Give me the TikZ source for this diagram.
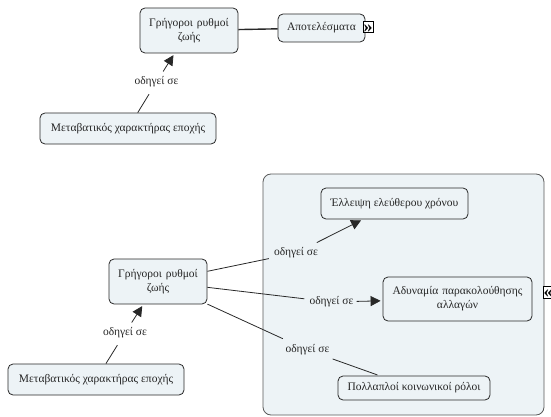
\documentclass[tikz,border=0pt]{standalone}
\usepackage{fontspec}
\setmainfont{Liberation Serif}
\usetikzlibrary{arrows.meta}
\definecolor{cmapfill}{RGB}{237,243,246}
\definecolor{cmapline}{RGB}{40,40,40}
\tikzset{
    concept/.style={draw=cmapline, fill=cmapfill, rounded corners=5pt, line width=0.8pt,
        align=center, inner sep=2pt, font=\fontsize{11.5}{14}\selectfont, text=black!85},
    cluster/.style={draw=black!65, fill=cmapfill, rounded corners=8pt, line width=0.8pt, inner sep=0pt},
    linkword/.style={inner xsep=3pt, inner ysep=5pt, font=\fontsize{11.5}{13}\selectfont, text=black!85},
    link/.style={draw=cmapline, line width=0.8pt, shorten >=2pt},
    leadsto/.style={link, -{Triangle[length=10pt,width=10pt]}},
    expander/.style={draw=black, fill=white, line width=0.6pt, inner sep=0pt,
        minimum width=10pt, minimum height=11pt, text height=6pt, text depth=0pt,
        font=\bfseries\fontsize{18}{18}\selectfont}
}
\newcommand{\chevronmark}[1]{\raisebox{-2.5pt}{#1}}
\begin{document}
\begin{tikzpicture}[x=1pt,y=-1pt]
                    \useasboundingbox (0,0) rectangle (551,417);

                    \node[concept, minimum width=98pt, minimum height=45pt, text width=90pt] (rushA) at (189,30.5) {Γρήγοροι ρυθμοί\\ζωής};
                    \node[concept, minimum width=87pt, minimum height=28pt] (results) at (321.5,28) {Αποτελέσματα};
                    \node[concept, minimum width=176pt, minimum height=31pt] (transA) at (128,128.5) {Μεταβατικός χαρακτήρας εποχής};
                    \node[linkword] (leadA) at (156.5,82) {οδηγεί σε};
                    \node[expander] (moreA) at (368,27) {\chevronmark{»}};

                    \draw[link, line width=1.4pt, shorten >=0pt] (rushA) -- (results);
                    \draw[link] (transA) -- (leadA);
                    \draw[leadsto] (leadA) -- (rushA);

                    \node[cluster, minimum width=281pt, minimum height=241pt] (group) at (403.5,294.5) {};

                    \node[concept, minimum width=98pt, minimum height=45pt, text width=90pt] (rushB) at (158,281.5) {Γρήγοροι ρυθμοί\\ζωής};
                    \node[concept, minimum width=147pt, minimum height=31pt] (leisure) at (394.5,203.5) {Έλλειψη ελεύθερου χρόνου};
                    \node[concept, minimum width=149pt, minimum height=44pt, text width=140pt] (changes) at (457.5,299) {Αδυναμία παρακολούθησης\\αλλαγών};
                    \node[concept, minimum width=152pt, minimum height=24pt] (roles) at (414,388) {Πολλαπλοί κοινωνικοί ρόλοι};
                    \node[concept, minimum width=176pt, minimum height=31pt] (transB) at (96,379.5) {Μεταβατικός χαρακτήρας εποχής};

                    \node[linkword] (leadB) at (125,333) {οδηγεί σε};
                    \node[linkword] (leadC) at (296,253) {οδηγεί σε};
                    \node[linkword] (leadD) at (331.5,302) {οδηγεί σε};
                    \node[linkword] (leadE) at (307.5,350) {οδηγεί σε};
                    \node[expander, minimum height=12pt] (moreB) at (548,292) {\chevronmark{«}};

                    \draw[link] (transB) -- (leadB);
                    \draw[leadsto] (leadB) -- (rushB);
                    \draw[link] (rushB) -- (leadC);
                    \draw[leadsto] (leadC) -- (leisure);
                    \draw[link] (rushB) -- (leadD);
                    \draw[leadsto] (leadD) -- (changes);
                    \draw[link] (rushB) -- (leadE);
                    \draw[link] (leadE) -- (roles);
\end{tikzpicture}
\end{document}
